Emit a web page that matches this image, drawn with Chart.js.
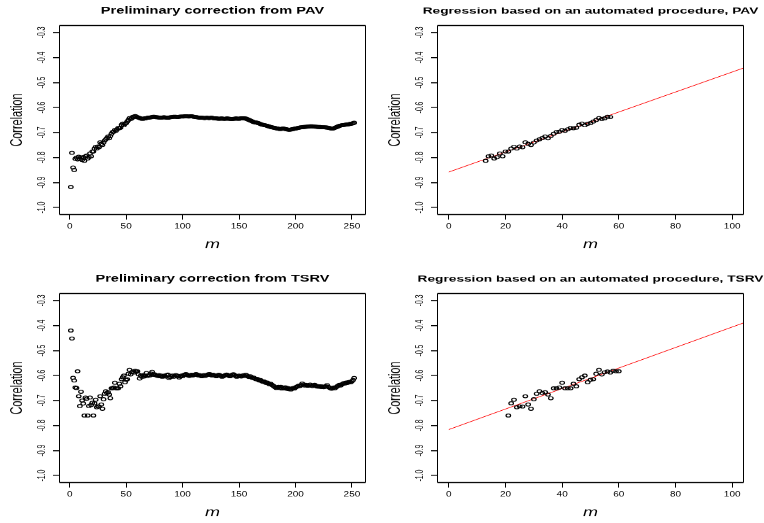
<!DOCTYPE html>
<html>
<head>
<meta charset="utf-8">
<title>Correlation against m</title>
<script src="https://cdn.jsdelivr.net/npm/chart.js@4.4.1/dist/chart.umd.min.js"></script>
<style>
  html, body { margin: 0; padding: 0; background: #fff; overflow: hidden; }
  #page { position: relative; width: 764px; height: 523px; overflow: hidden; }
  /* every panel is drawn tall and squashed vertically */
  #page canvas { position: absolute; transform-origin: 0 0; transform: scaleY(0.68); }
</style>
</head>
<body>
<div id="page">
  <canvas id="pav-prelim" width="386" height="376" style="left:0px;top:0px"></canvas>
  <canvas id="pav-reg" width="386" height="376" style="left:378px;top:0px"></canvas>
  <canvas id="tsrv-prelim" width="386" height="376" style="left:0px;top:267.5px"></canvas>
  <canvas id="tsrv-reg" width="386" height="376" style="left:378px;top:267.5px"></canvas>
</div>
<script>
// =====================================================
// DATA
// =====================================================

// correlation for m = 1..252, preliminary PAV correction
var pavPrelimCorr = [
  -0.918, -0.781, -0.840, -0.850, -0.805, -0.800, -0.808, -0.797, -0.805, -0.800,
  -0.810, -0.798, -0.813, -0.795, -0.792, -0.804, -0.799, -0.784, -0.795, -0.776,
  -0.776, -0.764, -0.757, -0.764, -0.756, -0.759, -0.739, -0.745, -0.750, -0.740,
  -0.732, -0.727, -0.722, -0.716, -0.723, -0.714, -0.705, -0.698, -0.697, -0.690,
  -0.693, -0.687, -0.682, -0.683, -0.681, -0.669, -0.664, -0.671, -0.665, -0.662,
  -0.656, -0.650, -0.642, -0.646, -0.643, -0.637, -0.638, -0.634, -0.636, -0.639,
  -0.640, -0.642, -0.644, -0.645, -0.645, -0.644, -0.643, -0.642, -0.641, -0.640,
  -0.640, -0.639, -0.638, -0.637, -0.637, -0.638, -0.639, -0.639, -0.640, -0.640,
  -0.640, -0.640, -0.639, -0.639, -0.640, -0.640, -0.641, -0.640, -0.639, -0.638,
  -0.638, -0.637, -0.637, -0.637, -0.638, -0.638, -0.637, -0.636, -0.636, -0.636,
  -0.636, -0.635, -0.635, -0.635, -0.636, -0.636, -0.635, -0.635, -0.636, -0.637,
  -0.638, -0.638, -0.639, -0.640, -0.640, -0.641, -0.641, -0.641, -0.642, -0.642,
  -0.641, -0.641, -0.642, -0.642, -0.641, -0.641, -0.642, -0.643, -0.643, -0.644,
  -0.644, -0.645, -0.645, -0.644, -0.644, -0.645, -0.645, -0.645, -0.644, -0.644,
  -0.645, -0.645, -0.646, -0.646, -0.645, -0.645, -0.644, -0.644, -0.645, -0.645,
  -0.644, -0.643, -0.643, -0.643, -0.644, -0.644, -0.646, -0.648, -0.650, -0.652,
  -0.654, -0.656, -0.658, -0.659, -0.660, -0.661, -0.662, -0.664, -0.666, -0.668,
  -0.669, -0.670, -0.671, -0.672, -0.673, -0.675, -0.676, -0.678, -0.679, -0.680,
  -0.681, -0.682, -0.683, -0.684, -0.685, -0.686, -0.686, -0.685, -0.684, -0.685,
  -0.686, -0.687, -0.688, -0.689, -0.689, -0.688, -0.687, -0.686, -0.685, -0.684,
  -0.683, -0.682, -0.681, -0.680, -0.679, -0.679, -0.678, -0.678, -0.677, -0.677,
  -0.676, -0.676, -0.675, -0.675, -0.675, -0.676, -0.676, -0.677, -0.677, -0.678,
  -0.678, -0.678, -0.679, -0.679, -0.679, -0.679, -0.680, -0.680, -0.681, -0.682,
  -0.683, -0.684, -0.684, -0.683, -0.681, -0.679, -0.677, -0.675, -0.673, -0.672,
  -0.671, -0.670, -0.670, -0.669, -0.668, -0.668, -0.667, -0.666, -0.665, -0.664,
  -0.663, -0.661
];

// correlation for m = 1..252, preliminary TSRV correction
var tsrvPrelimCorr = [
  -0.420, -0.452, -0.609, -0.620, -0.648, -0.650, -0.583, -0.683, -0.722, -0.665,
  -0.700, -0.712, -0.760, -0.688, -0.693, -0.760, -0.722, -0.688, -0.718, -0.709,
  -0.760, -0.711, -0.697, -0.727, -0.723, -0.724, -0.683, -0.716, -0.733, -0.695,
  -0.673, -0.663, -0.670, -0.667, -0.676, -0.691, -0.651, -0.651, -0.648, -0.629,
  -0.651, -0.651, -0.651, -0.633, -0.643, -0.615, -0.607, -0.600, -0.627, -0.617,
  -0.615, -0.593, -0.577, -0.596, -0.587, -0.584, -0.588, -0.581, -0.583, -0.583,
  -0.596, -0.612, -0.600, -0.605, -0.598, -0.604, -0.600, -0.590, -0.602, -0.598,
  -0.600, -0.592, -0.585, -0.597, -0.595, -0.598, -0.600, -0.602, -0.598, -0.603,
  -0.600, -0.605, -0.603, -0.600, -0.604, -0.598, -0.596, -0.610, -0.606, -0.602,
  -0.600, -0.605, -0.603, -0.598, -0.600, -0.602, -0.608, -0.604, -0.600, -0.603,
  -0.598, -0.596, -0.594, -0.597, -0.600, -0.602, -0.599, -0.597, -0.600, -0.598,
  -0.596, -0.594, -0.597, -0.600, -0.598, -0.601, -0.603, -0.600, -0.598, -0.602,
  -0.599, -0.597, -0.595, -0.594, -0.598, -0.600, -0.597, -0.599, -0.601, -0.603,
  -0.600, -0.597, -0.599, -0.602, -0.605, -0.603, -0.600, -0.598, -0.596, -0.598,
  -0.601, -0.603, -0.600, -0.597, -0.595, -0.598, -0.602, -0.605, -0.603, -0.600,
  -0.602, -0.604, -0.601, -0.599, -0.602, -0.597, -0.600, -0.604, -0.606, -0.603,
  -0.606, -0.610, -0.608, -0.612, -0.615, -0.613, -0.617, -0.620, -0.618, -0.622,
  -0.625, -0.623, -0.627, -0.630, -0.628, -0.632, -0.635, -0.633, -0.637, -0.640,
  -0.643, -0.647, -0.650, -0.648, -0.645, -0.650, -0.645, -0.652, -0.648, -0.651,
  -0.647, -0.653, -0.650, -0.655, -0.652, -0.656, -0.653, -0.650, -0.652, -0.648,
  -0.645, -0.643, -0.640, -0.642, -0.638, -0.632, -0.636, -0.640, -0.637, -0.639,
  -0.641, -0.638, -0.636, -0.640, -0.642, -0.639, -0.637, -0.641, -0.644, -0.642,
  -0.645, -0.643, -0.646, -0.644, -0.647, -0.645, -0.643, -0.638, -0.645, -0.648,
  -0.651, -0.653, -0.650, -0.648, -0.651, -0.647, -0.643, -0.640, -0.637, -0.640,
  -0.636, -0.633, -0.630, -0.632, -0.628, -0.630, -0.627, -0.625, -0.627, -0.623,
  -0.618, -0.610
];

// m window picked by the automated procedure, and the fitted line [intercept, slope]
var pavFitRange = [13, 57];
var pavFitLine = [-0.858, 0.0040];
var tsrvFitRange = [21, 60];
var tsrvFitLine = [-0.816, 0.0041];

// axes
var corrTicks = [-1.0, -0.9, -0.8, -0.7, -0.6, -0.5, -0.4, -0.3];
var corrLim = [-1.028, -0.272];
var mTicksFull = [0, 50, 100, 150, 200, 250];
var mLimFull = [-9.04, 262.04];
var mTicksFit = [0, 20, 40, 60, 80, 100];
var mLimFit = [-4, 104];

// =====================================================
// LAYOUT HELPERS
// =====================================================

var SQUASH = 0.68;   // same factor as the CSS scaleY above
var FONT = "'Liberation Sans', Arial, sans-serif";
var PLOT = { left: 59.5, right: 365.5, top: 25.5, bottom: 214.5 };

// screen px -> canvas px, vertical direction only
function tall(v) { return v / SQUASH; }

function toPoints(corr, firstM, lastM) {
  var pts = [];
  for (var m = firstM; m <= lastM; m++) {
    pts.push({ x: m, y: corr[m - 1] });
  }
  return pts;
}

// fitted line drawn from m = 0 out past the right edge of the box
function fitPoints(line, lim) {
  return [0, lim[1]].map(function (m) { return { x: m, y: line[0] + line[1] * m }; });
}

function fixedTicks(values) {
  return function (scale) {
    scale.ticks = values.map(function (v) { return { value: v }; });
  };
}

// R style box() around the plotting region
var boxPlugin = {
  id: 'plotBox',
  afterDraw: function (chart) {
    var a = chart.chartArea;
    var ctx = chart.ctx;
    ctx.save();
    ctx.strokeStyle = '#000';
    ctx.lineWidth = 1;
    ctx.beginPath();
    ctx.moveTo(a.left, a.top); ctx.lineTo(a.left, a.bottom);
    ctx.moveTo(a.right, a.top); ctx.lineTo(a.right, a.bottom);
    ctx.stroke();
    ctx.lineWidth = 1 / SQUASH;
    ctx.beginPath();
    ctx.moveTo(a.left, a.top); ctx.lineTo(a.right, a.top);
    ctx.moveTo(a.left, a.bottom); ctx.lineTo(a.right, a.bottom);
    ctx.stroke();
    ctx.restore();
  }
};

// main title centred over the box; allowed to run wider than the box
var mainTitlePlugin = {
  id: 'mainTitle',
  afterDraw: function (chart, args, opts) {
    var a = chart.chartArea;
    var ctx = chart.ctx;
    ctx.save();
    ctx.font = 'bold ' + opts.size + 'px ' + FONT;
    ctx.fillStyle = '#000';
    ctx.textAlign = 'center';
    ctx.textBaseline = 'middle';
    ctx.fillText(opts.text, (a.left + a.right) / 2, opts.y);
    ctx.restore();
  }
};

function circles(points) {
  return {
    data: points,
    pointStyle: 'circle',
    pointRadius: 2.3,
    pointBorderWidth: 1.2,
    pointBorderColor: '#000',
    pointBackgroundColor: 'rgba(0,0,0,0)',
    showLine: false
  };
}

function redLine(points) {
  return {
    data: points,
    showLine: true,
    borderColor: '#ff0000',
    borderWidth: 1,
    pointRadius: 0
  };
}

function makePanel(id, title, titleSize, datasets, mLim, mTicks) {
  var canvas = document.getElementById(id);
  var canvasH = canvas.height;

  return new Chart(canvas, {
    type: 'scatter',
    data: { datasets: datasets },
    plugins: [boxPlugin, mainTitlePlugin],
    options: {
      responsive: false,
      animation: false,
      events: [],
      layout: { padding: { left: 0, top: tall(PLOT.top), right: canvas.width - PLOT.right, bottom: 0 } },
      plugins: {
        legend: { display: false },
        tooltip: { enabled: false },
        mainTitle: { text: title, size: titleSize, y: 16.4 }
      },
      scales: {
        x: {
          type: 'linear',
          min: mLim[0],
          max: mLim[1],
          afterBuildTicks: fixedTicks(mTicks),
          afterFit: function (scale) { scale.height = canvasH - tall(PLOT.bottom); },
          grid: { drawOnChartArea: false, drawTicks: true, tickLength: tall(5), color: '#000', lineWidth: 1 },
          border: { display: false },
          ticks: {
            color: '#000',
            font: { family: FONT, size: 10 },
            padding: 4,
            maxRotation: 0,
            autoSkip: false,
            callback: function (v) { return String(v); }
          },
          title: {
            display: true,
            text: 'm',
            color: '#000',
            font: { family: FONT, size: 18, style: 'italic' },
            padding: { top: 0, bottom: 5.7 }
          }
        },
        y: {
          type: 'linear',
          min: corrLim[0],
          max: corrLim[1],
          afterBuildTicks: fixedTicks(corrTicks),
          afterFit: function (scale) { scale.width = PLOT.left; },
          grid: { drawOnChartArea: false, drawTicks: true, tickLength: 6.5, color: '#000', lineWidth: 1 / SQUASH },
          border: { display: false },
          ticks: {
            color: '#000',
            font: { family: FONT, size: 10 },
            padding: 2,
            minRotation: 90,
            maxRotation: 90,
            crossAlign: 'center',
            autoSkip: false,
            callback: function (v) { return v.toFixed(1); }
          },
          title: {
            display: true,
            text: 'Correlation',
            color: '#000',
            font: { family: FONT, size: 16 },
            padding: { top: 8, bottom: 0 }
          }
        }
      }
    }
  });
}

// =====================================================
// PANELS
// =====================================================

makePanel('pav-prelim', 'Preliminary correction from PAV', 14.6,
  [circles(toPoints(pavPrelimCorr, 1, pavPrelimCorr.length))],
  mLimFull, mTicksFull);

makePanel('pav-reg', 'Regression based on an automated procedure, PAV', 13.7,
  [circles(toPoints(pavPrelimCorr, pavFitRange[0], pavFitRange[1])), redLine(fitPoints(pavFitLine, mLimFit))],
  mLimFit, mTicksFit);

makePanel('tsrv-prelim', 'Preliminary correction from TSRV', 14.6,
  [circles(toPoints(tsrvPrelimCorr, 1, tsrvPrelimCorr.length))],
  mLimFull, mTicksFull);

makePanel('tsrv-reg', 'Regression based on an automated procedure, TSRV', 13.7,
  [circles(toPoints(tsrvPrelimCorr, tsrvFitRange[0], tsrvFitRange[1])), redLine(fitPoints(tsrvFitLine, mLimFit))],
  mLimFit, mTicksFit);
</script>
</body>
</html>
